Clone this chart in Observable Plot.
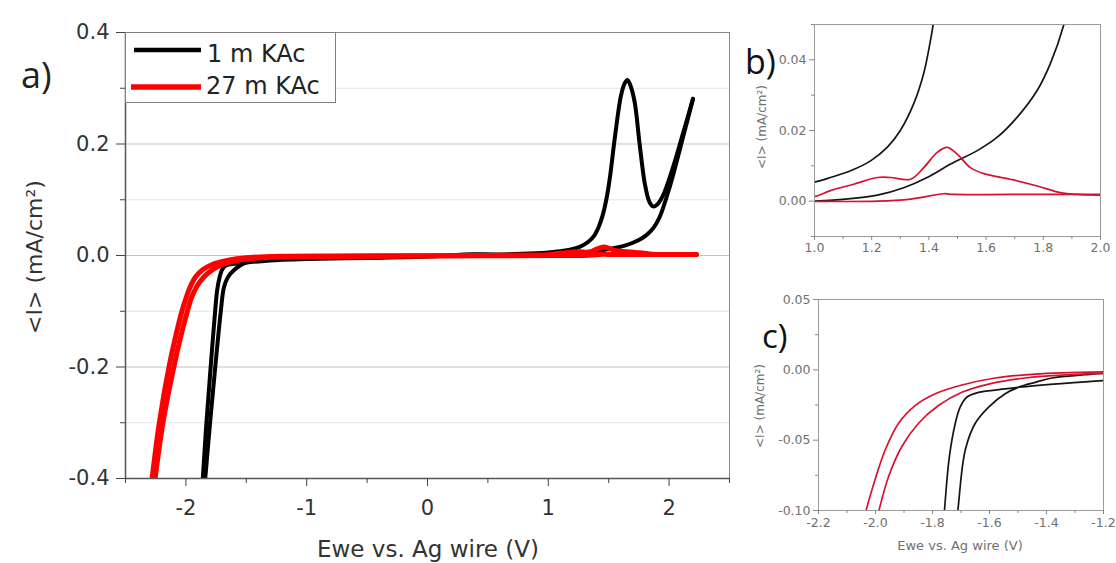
<!DOCTYPE html>
<html>
<head>
<meta charset="utf-8">
<script src="https://cdn.jsdelivr.net/npm/d3@7"></script>
<script src="https://cdn.jsdelivr.net/npm/@observablehq/plot@0.6"></script>
<style>
  html, body { margin: 0; padding: 0; background: #fff; }
  #wrap { position: relative; width: 1116px; height: 563px; overflow: hidden; background: #fff; }
  #wrap svg.plot { position: absolute; }
  #overlay { position: absolute; left: 0; top: 0; pointer-events: none; }
</style>
</head>
<body>
<div id="wrap"></div>
<script>
// ---------- Data (potential V, current mA/cm²) ----------
// 1 m KAc: cathodic (left) branch -> forward anodic scan with oxidation peak
const black1mFwd = [
  [-1.86,-0.4],[-1.83,-0.3],[-1.795,-0.2],[-1.758,-0.1],[-1.741,-0.062],[-1.72,-0.038],
  [-1.703,-0.0265],[-1.68,-0.0195],[-1.639,-0.016],[-1.545,-0.0136],[-1.498,-0.0124],
  [-1.35,-0.0098],[-1.2,-0.0077],[-1.0,-0.0062],[-0.5,-0.0045],[0,-0.002],[0.3,0.002],
  [0.6,0.002],[0.9,0.004],[1.0,0.0054],[1.056,0.0067],[1.126,0.0086],[1.196,0.0114],
  [1.254,0.0152],[1.30,0.020],[1.347,0.0276],[1.382,0.0362],[1.406,0.0457],[1.415,0.05],
  [1.45,0.072],[1.48,0.10],[1.51,0.14],[1.55,0.21],[1.60,0.285],[1.63,0.308],[1.655,0.315],
  [1.68,0.305],[1.715,0.275],[1.756,0.20],[1.798,0.13],[1.835,0.097],[1.867,0.088],
  [1.90,0.091],[1.95,0.108],[2.032,0.158],[2.115,0.219],[2.198,0.281]
];
// 1 m KAc: reverse scan from 2.2 V back through the right cathodic branch
const black1mRev = [
  [2.198,0.281],[2.115,0.212],[2.005,0.123],[1.922,0.069],[1.872,0.05],[1.825,0.039],
  [1.779,0.0314],[1.709,0.0238],[1.639,0.0181],[1.569,0.0143],[1.476,0.0105],[1.394,0.0067],
  [1.312,0.0038],[1.22,0.0017],[1.10,0.0005],[1.0,0.0],[0.5,-0.0005],[0,-0.001],
  [-0.5,-0.0015],[-1.0,-0.002],[-1.2,-0.0025],[-1.264,-0.0035],[-1.381,-0.0058],
  [-1.44,-0.0089],[-1.498,-0.0124],[-1.545,-0.017],[-1.603,-0.0265],[-1.65,-0.038],
  [-1.685,-0.057],[-1.711,-0.1],[-1.757,-0.2],[-1.80,-0.3],[-1.84,-0.4]
];
// 27 m KAc: cathodic (left) branch -> forward anodic scan
const red27mFwd = [
  [-2.28,-0.4],[-2.22,-0.3],[-2.14,-0.2],[-2.09,-0.15],[-2.033,-0.1],[-1.998,-0.0758],[-1.966,-0.057],
  [-1.919,-0.038],[-1.861,-0.0254],[-1.79,-0.017],[-1.697,-0.0108],[-1.58,-0.0058],
  [-1.44,-0.003],[-1.2,-0.0014],[-0.8,-0.0008],[0,-0.0003],[0.5,0.0002],[0.9,0.0008],
  [1.0,0.0013],[1.056,0.003],[1.137,0.0048],[1.22,0.0067],[1.266,0.0067],[1.336,0.0062],
  [1.382,0.0095],[1.429,0.0138],[1.464,0.0152],[1.499,0.0133],[1.545,0.0095],[1.592,0.0078],
  [1.685,0.0062],[1.779,0.0043],[1.86,0.0024],[1.919,0.0019],[2.0,0.0017],[2.1,0.0017],[2.226,0.0017]
];
// 27 m KAc: reverse scan
const red27mRev = [
  [2.226,0.0017],[2.0,0.0019],[1.685,0.0019],[1.487,0.0019],[1.452,0.0021],[1.336,0.0006],
  [1.22,0.0],[1.0,-0.0001],[0.5,-0.0005],[0,-0.001],[-0.8,-0.0018],[-1.2,-0.0025],
  [-1.323,-0.0035],[-1.475,-0.0058],[-1.592,-0.0096],[-1.697,-0.016],[-1.779,-0.0254],
  [-1.849,-0.038],[-1.908,-0.0547],[-1.954,-0.0758],[-1.988,-0.1],[-2.048,-0.15],[-2.10,-0.2],
  [-2.19,-0.3],[-2.255,-0.4]
];

const seriesNames = ["1 m KAc", "27 m KAc"];

// Tick values
const aMajorX = [-2, -1, 0, 1, 2];
const aMinorX = [-2.5, -1.5, -0.5, 0.5, 1.5, 2.5];
const aMajorY = [-0.4, -0.2, 0, 0.2, 0.4];
const aMinorY = [-0.3, -0.1, 0.1, 0.3];
const bMajorX = [1.0, 1.2, 1.4, 1.6, 1.8, 2.0];
const bMinorX = [1.1, 1.3, 1.5, 1.7, 1.9];
const bMajorY = [0.0, 0.02, 0.04];
const bMinorY = [-0.01, 0.01, 0.03, 0.05];
const cMajorX = [-2.2, -2.0, -1.8, -1.6, -1.4, -1.2];
const cMinorX = [-2.1, -1.9, -1.7, -1.5, -1.3];
const cMajorY = [-0.10, -0.05, 0.0, 0.05];
const cMinorY = [-0.075, -0.025, 0.025];

const xLabel = "Ewe vs. Ag wire (V)";
const yLabel = "<I> (mA/cm²)";

// ---------- Build tables ----------
const toRows = (arr, series, branch) => arr.map(([x, y]) => ({x, y, series, branch}));
const blackRows = [...toRows(black1mFwd, seriesNames[0], "fwd"), ...toRows(black1mRev, seriesNames[0], "rev")];
const redRows = [...toRows(red27mFwd, seriesNames[1], "fwd"), ...toRows(red27mRev, seriesNames[1], "rev")];

const wrap = document.getElementById("wrap");
function place(svg, left, top) {
  svg.classList.add("plot");
  svg.style.left = left + "px";
  svg.style.top = top + "px";
  wrap.appendChild(svg);
}
const blank = () => "";

// ---------- Panel a ----------
const plotA = Plot.plot({
  width: 745, height: 563,
  marginLeft: 125, marginTop: 32, marginRight: 16, marginBottom: 85,
  x: {domain: [-2.5, 2.5]},
  y: {domain: [-0.4, 0.4]},
  style: {fontFamily: "DejaVu Sans", fontSize: "21px", color: "#333", background: "transparent", overflow: "visible"},
  marks: [
    Plot.gridY(aMinorY, {stroke: "#e4e4e4", strokeOpacity: 1}),
    Plot.gridY(aMajorY, {stroke: "#c2c2c2", strokeOpacity: 1}),
    Plot.line(blackRows, {x: "x", y: "y", z: "branch", stroke: "#000", strokeWidth: 4, curve: "catmull-rom", clip: true}),
    Plot.line(redRows, {x: "x", y: "y", z: "branch", stroke: "#f00", strokeWidth: 5, curve: "catmull-rom", clip: true}),
    Plot.frame({stroke: "#8a8a8a"}),
    Plot.ruleX([-2.5], {stroke: "#555", strokeWidth: 1.5}),
    Plot.ruleY([-0.4], {stroke: "#555", strokeWidth: 1.5}),
    Plot.axisX(aMajorX, {tickSize: 8, tickPadding: 14, tickFormat: d => String(d), label: null, stroke: "#444"}),
    Plot.axisX(aMinorX, {tickSize: 5, tickFormat: blank, label: null, stroke: "#444"}),
    Plot.axisY(aMajorY, {tickSize: 9, tickPadding: 7, tickFormat: d => d.toFixed(1), label: null, stroke: "#444"}),
    Plot.axisY(aMinorY, {tickSize: 5, tickFormat: blank, label: null, stroke: "#444"})
  ]
});
place(plotA, 0, 0);

// ---------- Panel b ----------
const plotB = Plot.plot({
  width: 376, height: 262,
  marginLeft: 74, marginTop: 24, marginRight: 16, marginBottom: 26,
  x: {domain: [1.0, 2.0]},
  y: {domain: [-0.01, 0.05]},
  style: {fontFamily: "DejaVu Sans", fontSize: "12.5px", color: "#707070", background: "transparent", overflow: "visible"},
  marks: [
    Plot.line(blackRows, {x: "x", y: "y", z: "branch", stroke: "#151515", strokeWidth: 1.7, curve: "catmull-rom", clip: true}),
    Plot.line(redRows, {x: "x", y: "y", z: "branch", stroke: "#d5132f", strokeWidth: 1.7, curve: "catmull-rom", clip: true}),
    Plot.frame({stroke: "#9a9a9a"}),
    Plot.axisX(bMajorX, {tickSize: 4, tickPadding: 3, tickFormat: d => d.toFixed(1), label: null, stroke: "#888"}),
    Plot.axisX(bMinorX, {tickSize: 3, tickFormat: blank, label: null, stroke: "#888"}),
    Plot.axisY(bMajorY, {tickSize: 5, tickPadding: 3, tickFormat: d => d.toFixed(2), label: null, stroke: "#888"}),
    Plot.axisY(bMinorY, {tickSize: 3, tickFormat: blank, label: null, stroke: "#888"})
  ]
});
place(plotB, 740, 0);

// ---------- Panel c ----------
const plotC = Plot.plot({
  width: 376, height: 283,
  marginLeft: 78, marginTop: 19, marginRight: 13, marginBottom: 53,
  x: {domain: [-2.2, -1.2]},
  y: {domain: [-0.10, 0.05]},
  style: {fontFamily: "DejaVu Sans", fontSize: "12.5px", color: "#707070", background: "transparent", overflow: "visible"},
  marks: [
    Plot.line(blackRows, {x: "x", y: "y", z: "branch", stroke: "#151515", strokeWidth: 1.7, curve: "catmull-rom", clip: true}),
    Plot.line(redRows, {x: "x", y: "y", z: "branch", stroke: "#d5132f", strokeWidth: 1.7, curve: "catmull-rom", clip: true}),
    Plot.frame({stroke: "#9a9a9a"}),
    Plot.axisX(cMajorX, {tickSize: 4, tickPadding: 4, tickFormat: d => d.toFixed(1), label: null, stroke: "#888"}),
    Plot.axisX(cMinorX, {tickSize: 3, tickFormat: blank, label: null, stroke: "#888"}),
    Plot.axisY(cMajorY, {tickSize: 5, tickPadding: 3, tickFormat: d => d.toFixed(2), label: null, stroke: "#888"}),
    Plot.axisY(cMinorY, {tickSize: 3, tickFormat: blank, label: null, stroke: "#888"})
  ]
});
place(plotC, 740, 280);

// ---------- Overlay: axis titles, panel letters, legend ----------
const ns = "http://www.w3.org/2000/svg";
const ov = document.createElementNS(ns, "svg");
ov.setAttribute("id", "overlay");
ov.setAttribute("width", 1116);
ov.setAttribute("height", 563);
wrap.appendChild(ov);
function txt(str, attrs, style) {
  const t = document.createElementNS(ns, "text");
  for (const k in attrs) t.setAttribute(k, attrs[k]);
  Object.assign(t.style, style || {});
  t.textContent = str;
  ov.appendChild(t);
  return t;
}
function el(tag, attrs) {
  const e = document.createElementNS(ns, tag);
  for (const k in attrs) e.setAttribute(k, attrs[k]);
  ov.appendChild(e);
  return e;
}
// axis titles
txt(xLabel, {x: 428, y: 557, "text-anchor": "middle"}, {font: "23px 'DejaVu Sans'", fill: "#333"});
txt(yLabel, {transform: "translate(34,257) rotate(-90)", "text-anchor": "middle", dy: "0.35em"}, {font: "22px 'DejaVu Sans'", fill: "#333"});
txt(yLabel, {transform: "translate(762,127) rotate(-90)", "text-anchor": "middle", dy: "0.35em"}, {font: "12px 'DejaVu Sans'", fill: "#707070"});
txt(yLabel, {transform: "translate(760,406) rotate(-90)", "text-anchor": "middle", dy: "0.35em"}, {font: "12px 'DejaVu Sans'", fill: "#707070"});
txt(xLabel, {x: 960, y: 550, "text-anchor": "middle"}, {font: "13px 'DejaVu Sans'", fill: "#707070"});
// panel letters
txt("a)", {x: 21, y: 88}, {font: "36px 'Open Sans'", fill: "#222"});
txt("b)", {x: 745, y: 74}, {font: "34px 'Open Sans'", fill: "#111"});
txt("c)", {x: 762, y: 348}, {font: "33px 'Open Sans'", fill: "#111"});
// legend
el("rect", {x: 125.5, y: 32.5, width: 210, height: 70, fill: "#fff", stroke: "#808080", "stroke-width": 1});
el("line", {x1: 134, x2: 201, y1: 50, y2: 50, stroke: "#000", "stroke-width": 4.5});
el("line", {x1: 131, x2: 201, y1: 87, y2: 87, stroke: "#f00", "stroke-width": 5.5});
txt(seriesNames[0], {x: 207, y: 62}, {font: "24px 'DejaVu Sans'", fill: "#222"});
txt(seriesNames[1], {x: 206, y: 94}, {font: "24px 'DejaVu Sans'", fill: "#222"});
</script>
</body>
</html>
